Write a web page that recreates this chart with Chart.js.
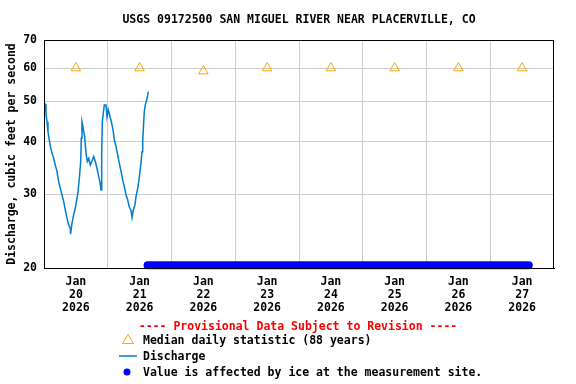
<!DOCTYPE html>
<html>
<head>
<meta charset="utf-8">
<script src="https://cdn.jsdelivr.net/npm/chart.js@4/dist/chart.umd.min.js"></script>
<style>
html,body{margin:0;padding:0;background:#fff;}
canvas{display:block;}
</style>
</head>
<body>
<canvas id="c" width="576" height="384"></canvas>
<script>
// ---- data ----
const titleText = 'USGS 09172500 SAN MIGUEL RIVER NEAR PLACERVILLE, CO';
const yTitle = 'Discharge, cubic feet per second';
const monthLabel = 'Jan';
const yearLabel = '2026';
const dayLabels = ['20','21','22','23','24','25','26','27'];
const dayNoonHours = [12,36,60,84,108,132,156,180];      // hours since Jan 20 00:00
const midnightHours = [24,48,72,96,120,144,168];
const yTicks = [20,30,40,50,60,70];

const medianValues = [60,60,59,60,60,60,60,60];

const dischargeHours = [0.0,0.5,0.75,1.13,1.5,2.0,2.37,3.0,3.65,4.25,4.9,5.53,6.14,6.78,7.42,8.02,8.66,9.3,9.9,10.0,10.54,11.18,11.78,12.42,12.8,13.29,13.82,14.04,14.3,14.68,14.95,15.3,15.55,15.93,16.3,16.83,17.43,18.07,18.71,19.31,19.95,20.6,21.08,21.46,21.72,21.95,22.33,22.7,23.34,23.72,24.2,24.85,25.49,26.09,26.47,27.1,27.75,28.35,29.0,29.63,30.23,30.87,31.5,32.1,32.76,33.13,33.62,34.26,34.64,35.28,35.65,36.14,36.52,36.9,37.16,37.54,37.76,38.14,38.67,39.04,39.27];
const dischargeValues = [49.5,49.2,46.6,44.7,42.3,40.4,39,37.6,36.5,35.2,34,32.1,31,29.9,28.8,27.5,26.3,25.3,24.9,24.1,25.6,26.8,27.8,29.3,30.4,32.7,35.9,40.8,44.7,43.5,42.3,41.2,39.3,37.2,35.9,36.5,35.2,36,36.9,35.9,34.6,33,32.1,30.7,37.9,44.7,46.8,49,49,45.9,47.7,46,44.3,42.3,40.4,39,37.2,35.6,34,32.4,31.3,29.9,29.1,28,27.4,26.4,27.5,28.3,29.6,31,32.1,34,35.6,37.9,40,44.7,47.2,49,50.4,51.7,52.7];

const iceHours = [39.0,182.5];     // start / end of ice-affected record
const iceValues = [20.3,20.3];     // drawn at the bottom of the plot

const provText = '---- Provisional Data Subject to Revision ----';
const legendLabels = ['Median daily statistic (88 years)','Discharge','Value is affected by ice at the measurement site.'];

// ---- styles ----
const FONT = '"DejaVu Sans Mono", "Liberation Mono", monospace';
const dischargeColor = 'rgb(0,125,205)';
const medianColor = '#FFA500';
const iceColor = '#0000FF';

const frame = {
  id:'frame',
  afterDraw(chart){
    const {ctx, chartArea:a} = chart;
    ctx.save();
    ctx.strokeStyle='#000'; ctx.lineWidth=1;
    ctx.strokeRect(Math.round(a.left)+0.5, Math.round(a.top)+0.5, Math.round(a.right-a.left)-1, Math.round(a.bottom-a.top));
    // legend
    ctx.font = 'bold 11.5px ' + FONT;
    ctx.textBaseline='middle';
    ctx.textAlign='center';
    ctx.fillStyle='#FF0000';
    ctx.fillText(provText, 298, 327);
    ctx.textAlign='left';
    ctx.fillStyle='#000';
    ctx.fillText(legendLabels[0], 143, 341);
    ctx.fillText(legendLabels[1], 143, 357);
    ctx.fillText(legendLabels[2], 143, 373);
    // triangle icon
    ctx.strokeStyle=medianColor; ctx.lineWidth=1;
    ctx.beginPath(); ctx.moveTo(128,334.5); ctx.lineTo(122.5,343.5); ctx.lineTo(133.5,343.5); ctx.closePath(); ctx.stroke();
    // line icon
    ctx.strokeStyle=dischargeColor; ctx.lineWidth=1.5;
    ctx.beginPath(); ctx.moveTo(119,356); ctx.lineTo(137,356); ctx.stroke();
    // dot icon
    ctx.fillStyle=iceColor;
    ctx.beginPath(); ctx.arc(127,372,3.5,0,Math.PI*2); ctx.fill();
    ctx.restore();
  }
};

new Chart(document.getElementById('c'), {
  data:{
    datasets:[
      { type:'line', label:'Discharge',
        data: dischargeHours.map((h,i)=>({x:h,y:dischargeValues[i]})),
        borderColor:dischargeColor, borderWidth:1.5, pointRadius:0, tension:0, order:2 },
      { type:'line', label:'Ice',
        data: iceHours.map((h,i)=>({x:h,y:iceValues[i]})),
        borderColor:iceColor, borderWidth:8, borderCapStyle:'round', pointRadius:0, clip:false, order:1 },
      { type:'scatter', label:'Median',
        data: dayNoonHours.map((h,i)=>({x:h,y:medianValues[i]})),
        pointStyle:'triangle', pointRadius:5.5, borderColor:medianColor, backgroundColor:'rgba(0,0,0,0)', borderWidth:1, order:0 }
    ]
  },
  options:{
    responsive:false, animation:false, devicePixelRatio:1,
    layout:{padding:{left:0,right:22,top:0,bottom:0}},
    plugins:{
      legend:{display:false}, tooltip:{enabled:false},
      title:{display:true, fullSize:false, text:titleText, color:'#000',
        font:{family:FONT, size:11.5, weight:'bold', lineHeight:'14px'},
        padding:{top:13,bottom:13}}
    },
    scales:{
      x:{type:'linear', min:0, max:192,
        afterBuildTicks(s){ s.ticks = dayNoonHours.concat(midnightHours).sort((a,b)=>a-b).map(v=>({value:v})); },
        afterFit(s){ s.height = 116; },
        grid:{drawTicks:false, color:(c)=> (c.tick && midnightHours.includes(c.tick.value)) ? '#CCCCCC' : 'rgba(0,0,0,0)'},
        border:{display:true,color:'#000'},
        ticks:{autoSkip:false, maxRotation:0, padding:8, color:'#000',
          font:{family:FONT, size:11.5, weight:'bold', lineHeight:'13px'},
          callback(v){ const i = dayNoonHours.indexOf(v); return i>=0 ? [monthLabel, dayLabels[i], yearLabel] : ''; }}
      },
      y:{type:'logarithmic', min:20, max:70,
        afterBuildTicks(s){ s.ticks = yTicks.map(v=>({value:v})); },
        afterFit(s){ s.width = 44; },
        grid:{drawTicks:false, color:'#CCCCCC'},
        border:{display:true,color:'#000'},
        ticks:{padding:7, color:'#000', font:{family:FONT, size:11.5, weight:'bold'},
          callback(v){ return String(v); }},
        title:{display:true, text:yTitle, color:'#000', padding:{top:5,bottom:0},
          font:{family:FONT, size:11.5, weight:'bold', lineHeight:'14px'}}
      }
    }
  },
  plugins:[frame]
});
</script>
</body>
</html>
